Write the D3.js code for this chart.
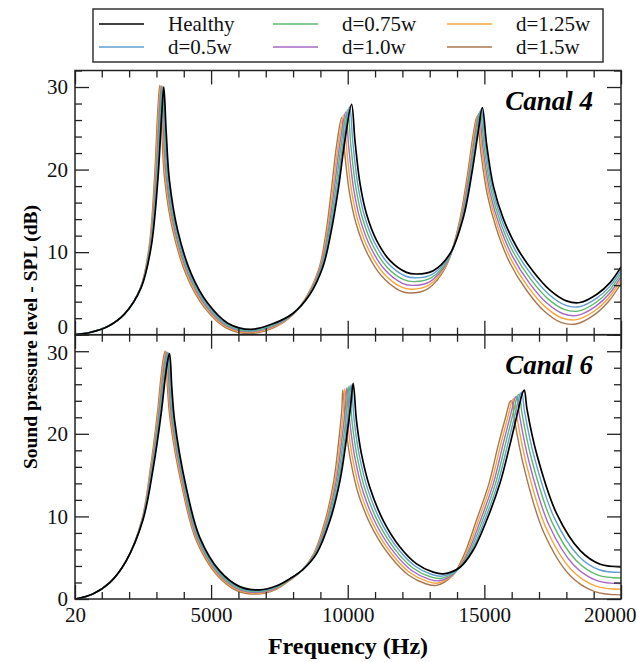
<!DOCTYPE html>
<html><head><meta charset="utf-8">
<script src="https://cdn.jsdelivr.net/npm/d3@7"></script>
<style>body{margin:0;background:#fff} svg{display:block}</style>
</head><body><svg id="c" width="637" height="662"></svg>
<script>
const seriesNames = ["Healthy","d=0.5w","d=0.75w","d=1.0w","d=1.25w","d=1.5w"];
const xTickValues = [20,5000,10000,15000,20000];
const xMinorTicks = [1000,2000,3000,4000,6000,7000,8000,9000,11000,12000,13000,14000,16000,17000,18000,19000];
const yTickValues = [0,10,20,30];
const yMinorTicks = [2,4,6,8,12,14,16,18,22,24,26,28,32];
const panelLabels = ["Canal 4","Canal 6"];

// Canal 4 — [frequency Hz, SPL dB]
const canal4_healthy = [[20,0],[600,0.3],[1220,1.0],[1830,2.5],[2440,5.7],[2805,10.6],[3050,18.7],[3195,26.8],[3270,30],[3355,24.7],[3475,18.7],[3780,12.6],[4270,7.4],[4880,3.8],[5610,1.4],[6465,0.65],[7320,1.4],[8000,2.6],[8600,4.8],[9090,8.2],[9400,12.6],[9650,17.5],[9895,23.5],[10140,27.9],[10265,23.5],[10450,18.3],[10690,14.6],[11060,11.4],[11540,9.0],[12150,7.55],[12520,7.35],[13130,7.76],[13740,9.8],[14230,14.2],[14540,19.5],[14780,24.7],[14925,27.5],[15085,23.0],[15330,18.0],[15700,14.0],[16200,10.5],[16800,7.6],[17400,5.4],[18000,4.1],[18500,3.9],[19120,4.9],[19600,6.3],[20000,8.2]];
const canal4_d050 = [[20,0],[600,0.3],[1220,1.0],[1830,2.5],[2435,5.7],[2790,10.6],[3025,18.7],[3165,26.82],[3240,30.04],[3323,24.7],[3441,18.7],[3744,12.6],[4235,7.36],[4850,3.72],[5590,1.3],[6455,0.55],[7320,1.3],[7995,2.55],[8585,4.8],[9065,8.2],[9363,12.6],[9600,17.5],[9835,23.4],[10068,27.58],[10190,23.2],[10374,18.05],[10615,14.35],[10990,11.1],[11480,8.62],[12100,7.11],[12475,6.89],[13090,7.32],[13705,9.45],[14195,14.0],[14505,19.4],[14742,24.6],[14885,27.28],[15043,22.8],[15285,17.8],[15650,13.75],[16145,10.15],[16750,7.15],[17355,4.9],[17960,3.58],[18470,3.38],[19100,4.4],[19590,5.85],[20000,7.8]];
const canal4_d075 = [[20,0],[600,0.3],[1220,1.0],[1830,2.5],[2430,5.7],[2775,10.6],[3000,18.7],[3135,26.84],[3210,30.08],[3291,24.7],[3407,18.7],[3708,12.6],[4200,7.32],[4820,3.64],[5570,1.2],[6445,0.45],[7320,1.2],[7990,2.5],[8570,4.8],[9040,8.2],[9326,12.6],[9550,17.5],[9775,23.3],[9996,27.26],[10115,22.9],[10298,17.8],[10540,14.1],[10920,10.8],[11420,8.24],[12050,6.67],[12430,6.43],[13050,6.88],[13670,9.1],[14160,13.8],[14470,19.3],[14704,24.5],[14845,27.06],[15001,22.6],[15240,17.6],[15600,13.5],[16090,9.8],[16700,6.7],[17310,4.4],[17920,3.06],[18440,2.86],[19080,3.9],[19580,5.4],[20000,7.4]];
const canal4_d100 = [[20,0],[600,0.3],[1220,1.0],[1830,2.5],[2425,5.7],[2760,10.6],[2975,18.7],[3105,26.86],[3180,30.12],[3259,24.7],[3373,18.7],[3672,12.6],[4165,7.28],[4790,3.56],[5550,1.1],[6435,0.35],[7320,1.1],[7985,2.45],[8555,4.8],[9015,8.2],[9289,12.6],[9500,17.5],[9715,23.2],[9924,26.94],[10040,22.6],[10222,17.55],[10465,13.85],[10850,10.5],[11360,7.86],[12000,6.23],[12385,5.97],[13010,6.44],[13635,8.75],[14125,13.6],[14435,19.2],[14666,24.4],[14805,26.84],[14959,22.4],[15195,17.4],[15550,13.25],[16035,9.45],[16650,6.25],[17265,3.9],[17880,2.54],[18410,2.34],[19060,3.4],[19570,4.95],[20000,7.0]];
const canal4_d125 = [[20,0],[600,0.3],[1220,1.0],[1830,2.5],[2420,5.7],[2745,10.6],[2950,18.7],[3075,26.88],[3150,30.16],[3227,24.7],[3339,18.7],[3636,12.6],[4130,7.24],[4760,3.48],[5530,1.0],[6425,0.25],[7320,1.0],[7980,2.4],[8540,4.8],[8990,8.2],[9252,12.6],[9450,17.5],[9655,23.1],[9852,26.62],[9965,22.3],[10146,17.3],[10390,13.6],[10780,10.2],[11300,7.48],[11950,5.79],[12340,5.51],[12970,6.0],[13600,8.4],[14090,13.4],[14400,19.1],[14628,24.3],[14765,26.62],[14917,22.2],[15150,17.2],[15500,13.0],[15980,9.1],[16600,5.8],[17220,3.4],[17840,2.02],[18380,1.82],[19040,2.9],[19560,4.5],[20000,6.6]];
const canal4_d150 = [[20,0],[600,0.3],[1220,1.0],[1830,2.5],[2415,5.7],[2730,10.6],[2925,18.7],[3045,26.9],[3120,30.2],[3195,24.7],[3305,18.7],[3600,12.6],[4095,7.2],[4730,3.4],[5510,0.9],[6415,0.15],[7320,0.9],[7975,2.35],[8525,4.8],[8965,8.2],[9215,12.6],[9400,17.5],[9595,23.0],[9780,26.3],[9890,22.0],[10070,17.05],[10315,13.35],[10710,9.9],[11240,7.1],[11900,5.35],[12295,5.05],[12930,5.56],[13565,8.05],[14055,13.2],[14365,19.0],[14590,24.2],[14725,26.4],[14875,22.0],[15105,17.0],[15450,12.75],[15925,8.75],[16550,5.35],[17175,2.9],[17800,1.5],[18350,1.3],[19020,2.4],[19550,4.05],[20000,6.2]];

// Canal 6 — [frequency Hz, SPL dB]
const canal6_healthy = [[20,0],[670,0.6],[1300,2.0],[1890,4.6],[2500,9.5],[2870,15.6],[3175,22.5],[3330,27],[3420,29.0],[3480,29.7],[3565,25.5],[3665,21.6],[4090,13.5],[4580,7.5],[5315,3.4],[6050,1.5],[6780,1.1],[7400,1.6],[7900,2.5],[8370,3.6],[8860,5.5],[9350,9.5],[9715,14.3],[9960,19.6],[10110,23.5],[10200,26.1],[10320,21.6],[10500,17.6],[10810,13.5],[11300,9.5],[11910,6.3],[12520,4.26],[13130,3.25],[13500,3.05],[14110,3.85],[14590,5.9],[15080,9.5],[15570,14.0],[15930,18.6],[16240,22.9],[16400,25.0],[16460,25.3],[16560,23],[16920,17.5],[17650,10.3],[18510,5.85],[19240,4.2],[20000,3.9]];
const canal6_d050 = [[20,0],[670,0.6],[1300,2.0],[1890,4.6],[2492,9.5],[2850,15.6],[3147,22.5],[3299,27.03],[3388,29.05],[3448,29.76],[3533,25.5],[3633,21.6],[4060,13.5],[4552,7.45],[5290,3.32],[6030,1.4],[6770,1.0],[7400,1.52],[7895,2.45],[8360,3.57],[8840,5.5],[9315,9.5],[9670,14.3],[9905,19.6],[10045,23.4],[10124,25.94],[10242,21.45],[10420,17.45],[10730,13.3],[11225,9.28],[11845,6.05],[12460,3.99],[13075,2.97],[13450,2.77],[14055,3.65],[14525,5.8],[15005,9.5],[15490,14.0],[15845,18.6],[16150,22.75],[16308,24.78],[16368,25.04],[16468,22.75],[16825,17.2],[17555,9.85],[18435,5.25],[19200,3.54],[20000,3.22]];
const canal6_d075 = [[20,0],[670,0.6],[1300,2.0],[1890,4.6],[2484,9.5],[2830,15.6],[3119,22.5],[3268,27.06],[3356,29.1],[3416,29.82],[3501,25.5],[3601,21.6],[4030,13.5],[4524,7.4],[5265,3.24],[6010,1.3],[6760,0.9],[7400,1.44],[7890,2.4],[8350,3.54],[8820,5.5],[9280,9.5],[9625,14.3],[9850,19.6],[9980,23.3],[10048,25.78],[10164,21.3],[10340,17.3],[10650,13.1],[11150,9.06],[11780,5.8],[12400,3.72],[13020,2.69],[13400,2.49],[14000,3.45],[14460,5.7],[14930,9.5],[15410,14.0],[15760,18.6],[16060,22.6],[16216,24.56],[16276,24.78],[16376,22.5],[16730,16.9],[17460,9.4],[18360,4.65],[19160,2.88],[20000,2.54]];
const canal6_d100 = [[20,0],[670,0.6],[1300,2.0],[1890,4.6],[2476,9.5],[2810,15.6],[3091,22.5],[3237,27.09],[3324,29.15],[3384,29.88],[3469,25.5],[3569,21.6],[4000,13.5],[4496,7.35],[5240,3.16],[5990,1.2],[6750,0.8],[7400,1.36],[7885,2.35],[8340,3.51],[8800,5.5],[9245,9.5],[9580,14.3],[9795,19.6],[9915,23.2],[9972,25.62],[10086,21.15],[10260,17.15],[10570,12.9],[11075,8.84],[11715,5.55],[12340,3.45],[12965,2.41],[13350,2.21],[13945,3.25],[14395,5.6],[14855,9.5],[15330,14.0],[15675,18.6],[15970,22.45],[16124,24.34],[16184,24.52],[16284,22.25],[16635,16.6],[17365,8.95],[18285,4.05],[19120,2.22],[20000,1.86]];
const canal6_d125 = [[20,0],[670,0.6],[1300,2.0],[1890,4.6],[2468,9.5],[2790,15.6],[3063,22.5],[3206,27.12],[3292,29.2],[3352,29.94],[3437,25.5],[3537,21.6],[3970,13.5],[4468,7.3],[5215,3.08],[5970,1.1],[6740,0.7],[7400,1.28],[7880,2.3],[8330,3.48],[8780,5.5],[9210,9.5],[9535,14.3],[9740,19.6],[9850,23.1],[9896,25.46],[10008,21.0],[10180,17.0],[10490,12.7],[11000,8.62],[11650,5.3],[12280,3.18],[12910,2.13],[13300,1.93],[13890,3.05],[14330,5.5],[14780,9.5],[15250,14.0],[15590,18.6],[15880,22.3],[16032,24.12],[16092,24.26],[16192,22.0],[16540,16.3],[17270,8.5],[18210,3.45],[19080,1.56],[20000,1.18]];
const canal6_d150 = [[20,0],[670,0.6],[1300,2.0],[1890,4.6],[2460,9.5],[2770,15.6],[3035,22.5],[3175,27.15],[3260,29.25],[3320,30.0],[3405,25.5],[3505,21.6],[3940,13.5],[4440,7.25],[5190,3.0],[5950,1.0],[6730,0.6],[7400,1.2],[7875,2.25],[8320,3.45],[8760,5.5],[9175,9.5],[9490,14.3],[9685,19.6],[9785,23.0],[9820,25.3],[9930,20.85],[10100,16.85],[10410,12.5],[10925,8.4],[11585,5.05],[12220,2.91],[12855,1.85],[13250,1.65],[13835,2.85],[14265,5.4],[14705,9.5],[15170,14.0],[15505,18.6],[15790,22.15],[15940,23.9],[16000,24.0],[16100,21.75],[16445,16.0],[17175,8.05],[18135,2.85],[19040,0.9],[20000,0.5]];

const canal4 = [canal4_healthy, canal4_d050, canal4_d075, canal4_d100, canal4_d125, canal4_d150];
const canal6 = [canal6_healthy, canal6_d050, canal6_d075, canal6_d100, canal6_d125, canal6_d150];

const colors = ["#000000","#5f9fd2","#5db86c","#a968c4","#f5a53c","#a8774f"];
const serif = "'Liberation Serif','Times New Roman',serif";

const svg = d3.select("#c");
const left = 75, right = 621;
const panels = [
  {top: 70.5, bottom: 334.7, data: canal4, label: panelLabels[0], showX: false},
  {top: 334.7, bottom: 599, data: canal6, label: panelLabels[1], showX: true}
];
const x = d3.scaleLinear().domain([20, 20000]).range([left, right]);

panels.forEach((p, pi) => {
  const y = d3.scaleLinear().domain([0, 32]).range([p.bottom, p.top]);
  const g = svg.append("g");
  const clipId = "clip" + pi;
  svg.append("clipPath").attr("id", clipId).append("rect")
    .attr("x", left).attr("y", p.top).attr("width", right - left).attr("height", p.bottom - p.top);

  const line = d3.line().x(d => x(d[0])).y(d => y(d[1])).curve(d3.curveCatmullRom.alpha(0.5));
  const order = [5,4,3,2,1,0];
  g.append("g").attr("clip-path", `url(#${clipId})`).selectAll("path")
    .data(order).join("path")
    .attr("d", i => line(p.data[i]))
    .attr("fill", "none")
    .attr("stroke", i => colors[i])
    .attr("stroke-width", i => i === 0 ? 1.7 : 1.4)
    .attr("stroke-linejoin", "round");

  const styleAxis = (sel) => {
    sel.select(".domain").remove();
    sel.selectAll("line").attr("stroke", "#222").attr("stroke-width", 1.3);
    sel.selectAll("text").attr("font-family", serif).attr("font-size", 21).attr("fill", "#111");
  };

  // left axis
  const la = g.append("g").attr("transform", `translate(${left},0)`)
    .call(d3.axisLeft(y).tickValues(yTickValues).tickSize(-14).tickPadding(7).tickFormat(d3.format("d")))
    .call(styleAxis);
  if (pi === 0) la.selectAll(".tick").filter(d => d === 0).select("text").attr("dy", "-0.05em");
  if (pi === 1) la.selectAll(".tick").filter(d => d === 30).select("text").attr("dy", "0.4em");
  g.append("g").attr("transform", `translate(${left},0)`)
    .call(d3.axisLeft(y).tickValues(yMinorTicks).tickSize(-7).tickFormat(""))
    .call(styleAxis);
  // right axis
  g.append("g").attr("transform", `translate(${right},0)`)
    .call(d3.axisRight(y).tickValues(yTickValues).tickSize(-14).tickFormat(""))
    .call(styleAxis);
  g.append("g").attr("transform", `translate(${right},0)`)
    .call(d3.axisRight(y).tickValues(yMinorTicks).tickSize(-7).tickFormat(""))
    .call(styleAxis);
  // top axis
  g.append("g").attr("transform", `translate(0,${p.top})`)
    .call(d3.axisTop(x).tickValues(xTickValues).tickSize(-14).tickFormat(""))
    .call(styleAxis);
  g.append("g").attr("transform", `translate(0,${p.top})`)
    .call(d3.axisTop(x).tickValues(xMinorTicks).tickSize(-7).tickFormat(""))
    .call(styleAxis);
  // bottom axis
  const ba = g.append("g").attr("transform", `translate(0,${p.bottom})`)
    .call(d3.axisBottom(x).tickValues(xTickValues).tickSize(-14).tickPadding(8)
      .tickFormat(p.showX ? d3.format("d") : ""))
    .call(styleAxis);
  if (p.showX) {
    ba.selectAll(".tick").filter(d => d === 20000).select("text")
      .attr("text-anchor", "end").attr("x", 15);
  }
  g.append("g").attr("transform", `translate(0,${p.bottom})`)
    .call(d3.axisBottom(x).tickValues(xMinorTicks).tickSize(-7).tickFormat(""))
    .call(styleAxis);

  // frame
  g.append("rect").attr("x", left).attr("y", p.top).attr("width", right - left).attr("height", p.bottom - p.top)
    .attr("fill", "none").attr("stroke", "#222").attr("stroke-width", 1.5);

  g.append("text").attr("x", 593).attr("y", p.top + 39)
    .attr("text-anchor", "end").attr("font-family", serif).attr("font-size", 27)
    .attr("font-weight", "bold").attr("font-style", "italic").text(p.label);
});

// axis titles
svg.append("text").attr("transform", "translate(30,337) rotate(-90)")
  .attr("text-anchor", "middle").attr("dominant-baseline", "central")
  .attr("font-family", serif).attr("font-size", 19.5).attr("font-weight", "bold").text("Sound pressure level - SPL (dB)");
svg.append("text").attr("x", 348).attr("y", 654)
  .attr("text-anchor", "middle")
  .attr("font-family", serif).attr("font-size", 24).attr("font-weight", "bold").text("Frequency (Hz)");

// legend
const lg = svg.append("g");
lg.append("rect").attr("x", 93).attr("y", 9).attr("width", 510).attr("height", 53)
  .attr("fill", "#fff").attr("stroke", "#333").attr("stroke-width", 1.5);
const colX = [99, 273, 447];
const rowY = [24, 47];
seriesNames.forEach((name, i) => {
  const c = Math.floor(i / 2), r = i % 2;
  lg.append("line").attr("x1", colX[c]).attr("x2", colX[c] + 45)
    .attr("y1", rowY[r]).attr("y2", rowY[r]).attr("stroke", colors[i]).attr("stroke-width", 1.5);
  lg.append("text").attr("x", colX[c] + 69).attr("y", rowY[r]).attr("dominant-baseline", "central")
    .attr("font-family", serif).attr("font-size", 21).attr("fill", "#111").text(name);
});
</script></body></html>
